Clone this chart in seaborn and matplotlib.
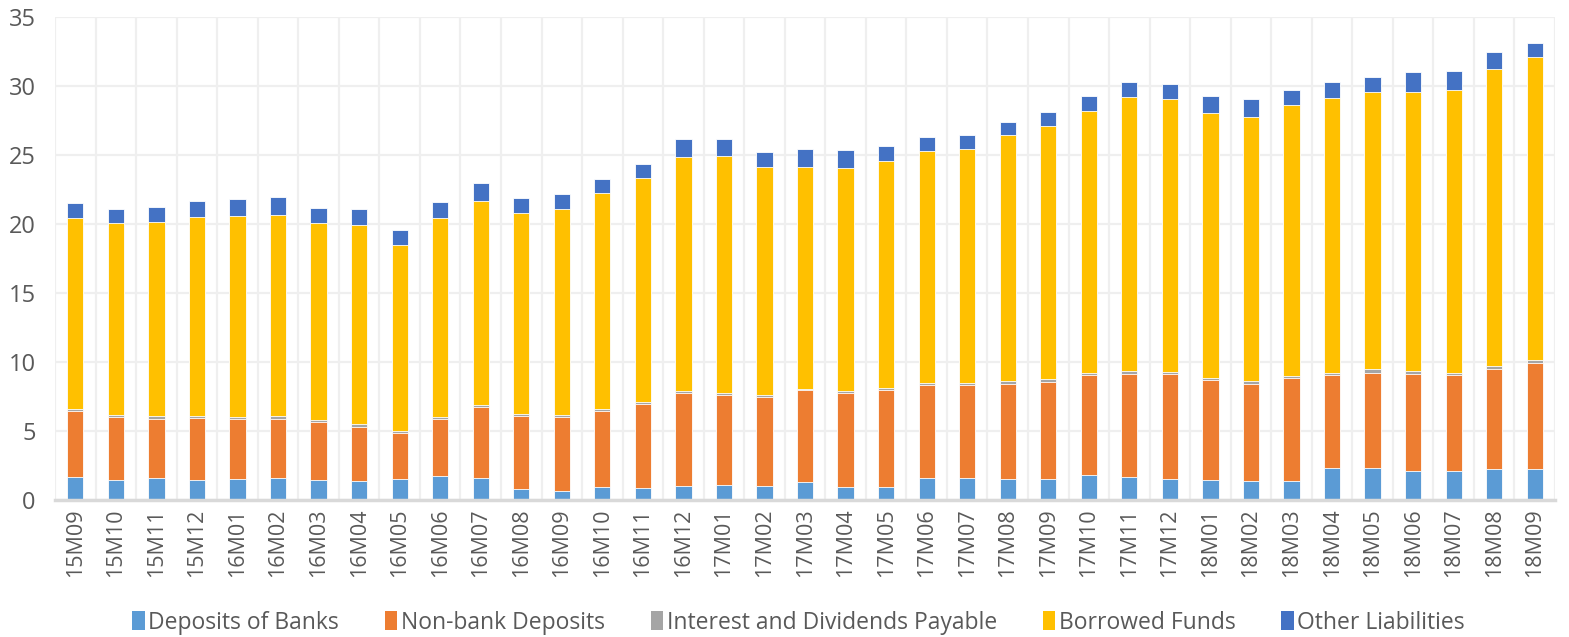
import matplotlib
import numpy as np
import pandas as pd

matplotlib.use("Agg")
import matplotlib.pyplot as plt
import seaborn as sns
from matplotlib.patches import Patch

months = [
    "15M09", "15M10", "15M11", "15M12",
    "16M01", "16M02", "16M03", "16M04", "16M05", "16M06",
    "16M07", "16M08", "16M09", "16M10", "16M11", "16M12",
    "17M01", "17M02", "17M03", "17M04", "17M05", "17M06",
    "17M07", "17M08", "17M09", "17M10", "17M11", "17M12",
    "18M01", "18M02", "18M03", "18M04", "18M05", "18M06",
    "18M07", "18M08", "18M09",
]

deposits_banks = [
    1.64, 1.45, 1.57, 1.42, 1.50, 1.57, 1.45, 1.40, 1.52, 1.76,
    1.57, 0.77, 0.68, 0.92, 0.89, 0.99, 1.06, 0.99, 1.28, 0.97,
    0.97, 1.59, 1.57, 1.52, 1.50, 1.79, 1.64, 1.52, 1.45, 1.40,
    1.40, 2.32, 2.29, 2.08, 2.08, 2.22, 2.22,
]
nonbank_deposits = [
    4.81, 4.54, 4.30, 4.50, 4.35, 4.30, 4.18, 3.87, 3.31, 4.09,
    5.19, 5.34, 5.36, 5.53, 6.07, 6.74, 6.57, 6.45, 6.67, 6.76,
    6.98, 6.72, 6.74, 6.91, 7.05, 7.27, 7.49, 7.61, 7.25, 7.01,
    7.42, 6.71, 6.94, 7.02, 6.95, 7.27, 7.68,
]
interest_payable = [
    0.12, 0.15, 0.19, 0.19, 0.14, 0.19, 0.17, 0.23, 0.17, 0.14,
    0.12, 0.15, 0.12, 0.12, 0.17, 0.14, 0.10, 0.14, 0.12, 0.14,
    0.19, 0.14, 0.14, 0.19, 0.19, 0.17, 0.19, 0.17, 0.14, 0.19,
    0.17, 0.20, 0.29, 0.22, 0.20, 0.19, 0.24,
]
borrowed_funds = [
    13.83, 13.91, 14.09, 14.39, 14.56, 14.62, 14.30, 14.43, 13.50, 14.41,
    14.82, 14.54, 14.90, 15.65, 16.17, 16.99, 17.22, 16.57, 16.06, 16.21,
    16.40, 16.86, 16.98, 17.83, 18.39, 18.97, 19.91, 19.78, 19.20, 19.18,
    19.66, 19.87, 20.07, 20.28, 20.50, 21.58, 21.94,
]
other_liabilities = [
    1.10, 1.01, 1.08, 1.14, 1.25, 1.28, 1.08, 1.13, 1.10, 1.20,
    1.27, 1.10, 1.11, 1.02, 1.07, 1.32, 1.21, 1.04, 1.33, 1.28,
    1.11, 0.99, 1.04, 0.97, 0.97, 1.05, 1.06, 1.09, 1.26, 1.26,
    1.06, 1.17, 1.06, 1.40, 1.36, 1.18, 1.01,
]

series_names = [
    "Deposits of Banks", "Non-bank Deposits", "Interest and Dividends Payable",
    "Borrowed Funds", "Other Liabilities",
]
colors = ["#5B9BD5", "#ED7D31", "#A5A5A5", "#FFC000", "#4472C4"]

df = pd.DataFrame({
    "month": months,
    series_names[0]: deposits_banks,
    series_names[1]: nonbank_deposits,
    series_names[2]: interest_payable,
    series_names[3]: borrowed_funds,
    series_names[4]: other_liabilities,
})
cum = df[series_names].cumsum(axis=1)

plt.rcParams["font.family"] = ["Open Sans", "DejaVu Sans"]
TXT = "#595959"

fig = plt.figure(figsize=(15.69, 6.37), dpi=100)
ax = fig.add_axes([0.0351, 0.2151, 0.9560, 0.7582])

# stacked bars: draw cumulative totals from the top series down
for name, col in reversed(list(zip(series_names, colors))):
    sns.barplot(
        x=df["month"], y=cum[name], color=col, width=0.4, saturation=1,
        edgecolor="white", linewidth=0.6, ax=ax, zorder=3,
    )

ax.set_ylim(0, 35)
ax.set_xlim(-0.5, len(months) - 0.5)
ax.set_yticks(np.arange(0, 36, 5))
ax.set_xticks(np.arange(-0.5, len(months), 1), minor=True)
ax.grid(axis="y", which="major", color="#EFEFEF", linewidth=1.6, zorder=0)
ax.grid(axis="x", which="minor", color="#EFEFEF", linewidth=1.6, zorder=0)
ax.set_axisbelow(True)
ax.set_xlabel("")
ax.set_ylabel("")

for s in ["top", "right", "left"]:
    ax.spines[s].set_visible(False)
ax.spines["bottom"].set_color("#D9D9D9")
ax.spines["bottom"].set_linewidth(2.5)
ax.spines["bottom"].set_zorder(4)

ax.tick_params(axis="y", length=0, pad=14, labelsize=17, labelcolor=TXT)
ax.tick_params(axis="x", which="major", length=0, pad=6, labelsize=15.5,
               labelcolor=TXT, rotation=90)
ax.tick_params(axis="x", which="minor", length=0)

handles = [Patch(facecolor=c, edgecolor="none") for c in colors]
fig.legend(
    handles, series_names, loc="lower center", ncol=5, frameon=False,
    bbox_to_anchor=(0.509, -0.029), fontsize=16.5, labelcolor=TXT,
    handlelength=0.55, handleheight=0.9, handletextpad=0.15, columnspacing=2.0,
)

fig.savefig("out.png", dpi=100)
plt.close(fig)
